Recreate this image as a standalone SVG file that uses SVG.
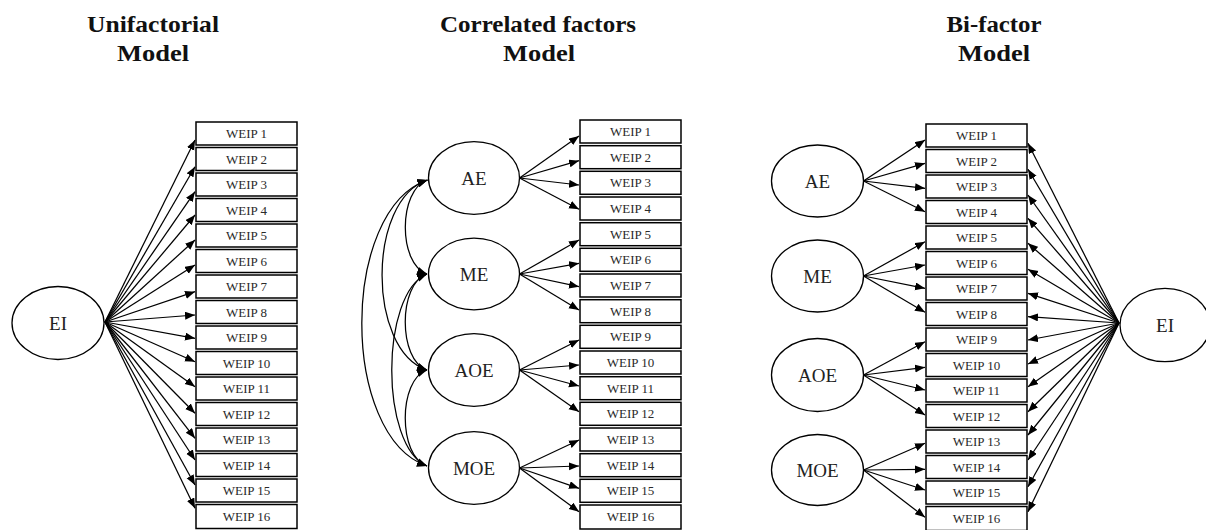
<svg xmlns="http://www.w3.org/2000/svg" width="1206" height="530" viewBox="0 0 1206 530">
<defs>
<marker id="ah" markerUnits="userSpaceOnUse" markerWidth="11" markerHeight="9" refX="10" refY="4" orient="auto-start-reverse"><path d="M0,0 L10,4 L0,8 z" fill="#000"/></marker>
<style>
.title{font-family:"Liberation Serif","Times New Roman",serif;font-weight:bold;font-size:24px;fill:#111;text-anchor:middle}
.box rect{fill:#fff;stroke:#000;stroke-width:1.5}
.box text{font-family:"Liberation Serif","Times New Roman",serif;font-size:13px;fill:#2a2a2a;text-anchor:middle}
.lat ellipse{fill:#fff;stroke:#000;stroke-width:1.3}
.lat text{font-family:"Liberation Serif","Times New Roman",serif;font-size:19px;fill:#222;text-anchor:middle}
.conn line,.conn path{stroke:#000;stroke-width:1.25;fill:none;marker-end:url(#ah)}
.conn path.cov{marker-start:url(#ah)}
</style>
</defs>
<rect width="1206" height="530" fill="#fff"/>
<g id="titles">
<text class="title" x="153" y="32" textLength="132" lengthAdjust="spacingAndGlyphs">Unifactorial</text>
<text class="title" x="153" y="61" textLength="72" lengthAdjust="spacingAndGlyphs">Model</text>
<text class="title" x="538" y="32" textLength="196" lengthAdjust="spacingAndGlyphs">Correlated factors</text>
<text class="title" x="539" y="61" textLength="72" lengthAdjust="spacingAndGlyphs">Model</text>
<text class="title" x="994" y="32" textLength="95" lengthAdjust="spacingAndGlyphs">Bi-factor</text>
<text class="title" x="994" y="61" textLength="72" lengthAdjust="spacingAndGlyphs">Model</text>
</g>
<g id="connectors" class="conn">
<line x1="105" y1="322" x2="195" y2="140"/>
<line x1="105" y1="322" x2="195" y2="166.7"/>
<line x1="105" y1="322" x2="195" y2="191.7"/>
<line x1="105" y1="322" x2="195" y2="215"/>
<line x1="105" y1="322" x2="195" y2="240"/>
<line x1="105" y1="322" x2="195" y2="265"/>
<line x1="105" y1="322" x2="195" y2="291.7"/>
<line x1="105" y1="322" x2="195" y2="315"/>
<line x1="105" y1="322" x2="195" y2="338.3"/>
<line x1="105" y1="322" x2="195" y2="361.7"/>
<line x1="105" y1="322" x2="195" y2="386.7"/>
<line x1="105" y1="322" x2="195" y2="413.3"/>
<line x1="105" y1="322" x2="195" y2="438.3"/>
<line x1="105" y1="322" x2="195" y2="460"/>
<line x1="105" y1="322" x2="195" y2="485"/>
<line x1="105" y1="322" x2="195" y2="508.3"/>
<line x1="519.5" y1="178" x2="579" y2="136"/>
<line x1="519.5" y1="178" x2="579" y2="160.7"/>
<line x1="519.5" y1="178" x2="579" y2="185"/>
<line x1="519.5" y1="178" x2="579" y2="209.3"/>
<line x1="519.5" y1="274" x2="579" y2="240"/>
<line x1="519.5" y1="274" x2="579" y2="263.3"/>
<line x1="519.5" y1="274" x2="579" y2="286.7"/>
<line x1="519.5" y1="274" x2="579" y2="310"/>
<line x1="519.5" y1="370" x2="579" y2="340"/>
<line x1="519.5" y1="370" x2="579" y2="365"/>
<line x1="519.5" y1="370" x2="579" y2="386"/>
<line x1="519.5" y1="370" x2="579" y2="411.7"/>
<line x1="519.5" y1="468" x2="579" y2="440"/>
<line x1="519.5" y1="468" x2="579" y2="466"/>
<line x1="519.5" y1="468" x2="579" y2="488.3"/>
<line x1="519.5" y1="468" x2="579" y2="511.7"/>
<path class="cov" d="M427.5,180 C398,190 398,264 427,274"/>
<path class="cov" d="M427,274 C398,284 398,360 427,370"/>
<path class="cov" d="M427,370 C398,380 398,456 427,466"/>
<path class="cov" d="M427.5,180 C367,200 367,350 427,370"/>
<path class="cov" d="M427,274 C380,294 380,446 427,466"/>
<path class="cov" d="M427.5,180 C340,210 340,436 427,466"/>
<line x1="863.5" y1="181" x2="925" y2="140"/>
<line x1="863.5" y1="181" x2="925" y2="163.3"/>
<line x1="863.5" y1="181" x2="925" y2="188.3"/>
<line x1="863.5" y1="181" x2="925" y2="211.7"/>
<line x1="863.5" y1="276" x2="925" y2="241.7"/>
<line x1="863.5" y1="276" x2="925" y2="265"/>
<line x1="863.5" y1="276" x2="925" y2="288.3"/>
<line x1="863.5" y1="276" x2="925" y2="312.3"/>
<line x1="863.5" y1="375" x2="925" y2="341.7"/>
<line x1="863.5" y1="375" x2="925" y2="367.3"/>
<line x1="863.5" y1="375" x2="925" y2="390"/>
<line x1="863.5" y1="375" x2="925" y2="415"/>
<line x1="863.5" y1="470" x2="925" y2="443.3"/>
<line x1="863.5" y1="470" x2="925" y2="469.3"/>
<line x1="863.5" y1="470" x2="925" y2="490"/>
<line x1="863.5" y1="470" x2="925" y2="517.3"/>
<line x1="1119" y1="323" x2="1028" y2="143.3"/>
<line x1="1119" y1="323" x2="1028" y2="169.3"/>
<line x1="1119" y1="323" x2="1028" y2="195"/>
<line x1="1119" y1="323" x2="1028" y2="218.3"/>
<line x1="1119" y1="323" x2="1028" y2="243.3"/>
<line x1="1119" y1="323" x2="1028" y2="269.3"/>
<line x1="1119" y1="323" x2="1028" y2="293.3"/>
<line x1="1119" y1="323" x2="1028" y2="316.7"/>
<line x1="1119" y1="323" x2="1028" y2="340"/>
<line x1="1119" y1="323" x2="1028" y2="364"/>
<line x1="1119" y1="323" x2="1028" y2="386.7"/>
<line x1="1119" y1="323" x2="1028" y2="411.7"/>
<line x1="1119" y1="323" x2="1028" y2="435"/>
<line x1="1119" y1="323" x2="1028" y2="460"/>
<line x1="1119" y1="323" x2="1028" y2="486.7"/>
<line x1="1119" y1="323" x2="1028" y2="511.7"/>
</g>
<g id="u-EI" class="lat"><ellipse cx="58" cy="323" rx="46" ry="36.5"/><text x="58" y="329.5">EI</text></g>
<g id="u-W1" class="box"><rect x="196" y="122" width="101" height="23"/><text x="246.5" y="138">WEIP 1</text></g>
<g id="u-W2" class="box"><rect x="196" y="147.5" width="101" height="23"/><text x="246.5" y="163.5">WEIP 2</text></g>
<g id="u-W3" class="box"><rect x="196" y="173" width="101" height="23"/><text x="246.5" y="189">WEIP 3</text></g>
<g id="u-W4" class="box"><rect x="196" y="198.5" width="101" height="23"/><text x="246.5" y="214.5">WEIP 4</text></g>
<g id="u-W5" class="box"><rect x="196" y="224" width="101" height="23"/><text x="246.5" y="240">WEIP 5</text></g>
<g id="u-W6" class="box"><rect x="196" y="249.5" width="101" height="23"/><text x="246.5" y="265.5">WEIP 6</text></g>
<g id="u-W7" class="box"><rect x="196" y="275" width="101" height="23"/><text x="246.5" y="291">WEIP 7</text></g>
<g id="u-W8" class="box"><rect x="196" y="300.5" width="101" height="23"/><text x="246.5" y="316.5">WEIP 8</text></g>
<g id="u-W9" class="box"><rect x="196" y="326" width="101" height="23"/><text x="246.5" y="342">WEIP 9</text></g>
<g id="u-W10" class="box"><rect x="196" y="351.5" width="101" height="23"/><text x="246.5" y="367.5">WEIP 10</text></g>
<g id="u-W11" class="box"><rect x="196" y="377" width="101" height="23"/><text x="246.5" y="393">WEIP 11</text></g>
<g id="u-W12" class="box"><rect x="196" y="402.5" width="101" height="23"/><text x="246.5" y="418.5">WEIP 12</text></g>
<g id="u-W13" class="box"><rect x="196" y="428" width="101" height="23"/><text x="246.5" y="444">WEIP 13</text></g>
<g id="u-W14" class="box"><rect x="196" y="453.5" width="101" height="23"/><text x="246.5" y="469.5">WEIP 14</text></g>
<g id="u-W15" class="box"><rect x="196" y="479" width="101" height="23"/><text x="246.5" y="495">WEIP 15</text></g>
<g id="u-W16" class="box"><rect x="196" y="504.5" width="101" height="24"/><text x="246.5" y="520.5">WEIP 16</text></g>
<g id="c-AE" class="lat"><ellipse cx="474" cy="178" rx="45.5" ry="36.3"/><text x="474" y="184.5">AE</text></g>
<g id="c-ME" class="lat"><ellipse cx="474" cy="274" rx="45.5" ry="35.8"/><text x="474" y="280.5">ME</text></g>
<g id="c-AOE" class="lat"><ellipse cx="474" cy="370" rx="45.5" ry="36.3"/><text x="474" y="376.5">AOE</text></g>
<g id="c-MOE" class="lat"><ellipse cx="474" cy="468" rx="45.5" ry="36.3"/><text x="474" y="474.5">MOE</text></g>
<g id="c-W1" class="box"><rect x="580" y="120" width="101" height="23"/><text x="630.5" y="136">WEIP 1</text></g>
<g id="c-W2" class="box"><rect x="580" y="145.7" width="101" height="23"/><text x="630.5" y="161.7">WEIP 2</text></g>
<g id="c-W3" class="box"><rect x="580" y="171.3" width="101" height="23"/><text x="630.5" y="187.3">WEIP 3</text></g>
<g id="c-W4" class="box"><rect x="580" y="197" width="101" height="23"/><text x="630.5" y="213">WEIP 4</text></g>
<g id="c-W5" class="box"><rect x="580" y="222.7" width="101" height="23"/><text x="630.5" y="238.7">WEIP 5</text></g>
<g id="c-W6" class="box"><rect x="580" y="248.3" width="101" height="23"/><text x="630.5" y="264.3">WEIP 6</text></g>
<g id="c-W7" class="box"><rect x="580" y="274" width="101" height="23"/><text x="630.5" y="290">WEIP 7</text></g>
<g id="c-W8" class="box"><rect x="580" y="299.7" width="101" height="23"/><text x="630.5" y="315.7">WEIP 8</text></g>
<g id="c-W9" class="box"><rect x="580" y="325.3" width="101" height="23"/><text x="630.5" y="341.3">WEIP 9</text></g>
<g id="c-W10" class="box"><rect x="580" y="351" width="101" height="23"/><text x="630.5" y="367">WEIP 10</text></g>
<g id="c-W11" class="box"><rect x="580" y="376.7" width="101" height="23"/><text x="630.5" y="392.7">WEIP 11</text></g>
<g id="c-W12" class="box"><rect x="580" y="402.3" width="101" height="23"/><text x="630.5" y="418.3">WEIP 12</text></g>
<g id="c-W13" class="box"><rect x="580" y="428" width="101" height="23"/><text x="630.5" y="444">WEIP 13</text></g>
<g id="c-W14" class="box"><rect x="580" y="453.7" width="101" height="23"/><text x="630.5" y="469.7">WEIP 14</text></g>
<g id="c-W15" class="box"><rect x="580" y="479.3" width="101" height="23"/><text x="630.5" y="495.3">WEIP 15</text></g>
<g id="c-W16" class="box"><rect x="580" y="505" width="101" height="24"/><text x="630.5" y="521">WEIP 16</text></g>
<g id="b-AE" class="lat"><ellipse cx="817.5" cy="181" rx="46" ry="36"/><text x="817.5" y="187.5">AE</text></g>
<g id="b-ME" class="lat"><ellipse cx="817.5" cy="276" rx="46" ry="36"/><text x="817.5" y="282.5">ME</text></g>
<g id="b-AOE" class="lat"><ellipse cx="817.5" cy="375" rx="46" ry="36.5"/><text x="817.5" y="381.5">AOE</text></g>
<g id="b-MOE" class="lat"><ellipse cx="817.5" cy="470" rx="46" ry="35.5"/><text x="817.5" y="476.5">MOE</text></g>
<g id="b-EI" class="lat"><ellipse cx="1165" cy="325" rx="45" ry="36.7"/><text x="1165" y="331.5">EI</text></g>
<g id="b-W1" class="box"><rect x="926" y="124" width="101" height="23"/><text x="976.5" y="140">WEIP 1</text></g>
<g id="b-W2" class="box"><rect x="926" y="149.5" width="101" height="23"/><text x="976.5" y="165.5">WEIP 2</text></g>
<g id="b-W3" class="box"><rect x="926" y="175" width="101" height="23"/><text x="976.5" y="191">WEIP 3</text></g>
<g id="b-W4" class="box"><rect x="926" y="200.5" width="101" height="23"/><text x="976.5" y="216.5">WEIP 4</text></g>
<g id="b-W5" class="box"><rect x="926" y="226" width="101" height="23"/><text x="976.5" y="242">WEIP 5</text></g>
<g id="b-W6" class="box"><rect x="926" y="251.5" width="101" height="23"/><text x="976.5" y="267.5">WEIP 6</text></g>
<g id="b-W7" class="box"><rect x="926" y="277" width="101" height="23"/><text x="976.5" y="293">WEIP 7</text></g>
<g id="b-W8" class="box"><rect x="926" y="302.5" width="101" height="23"/><text x="976.5" y="318.5">WEIP 8</text></g>
<g id="b-W9" class="box"><rect x="926" y="328" width="101" height="23"/><text x="976.5" y="344">WEIP 9</text></g>
<g id="b-W10" class="box"><rect x="926" y="353.5" width="101" height="23"/><text x="976.5" y="369.5">WEIP 10</text></g>
<g id="b-W11" class="box"><rect x="926" y="379" width="101" height="23"/><text x="976.5" y="395">WEIP 11</text></g>
<g id="b-W12" class="box"><rect x="926" y="404.5" width="101" height="23"/><text x="976.5" y="420.5">WEIP 12</text></g>
<g id="b-W13" class="box"><rect x="926" y="430" width="101" height="23"/><text x="976.5" y="446">WEIP 13</text></g>
<g id="b-W14" class="box"><rect x="926" y="455.5" width="101" height="23"/><text x="976.5" y="471.5">WEIP 14</text></g>
<g id="b-W15" class="box"><rect x="926" y="481" width="101" height="23"/><text x="976.5" y="497">WEIP 15</text></g>
<g id="b-W16" class="box"><rect x="926" y="506.5" width="101" height="24"/><text x="976.5" y="522.5">WEIP 16</text></g>
</svg>
